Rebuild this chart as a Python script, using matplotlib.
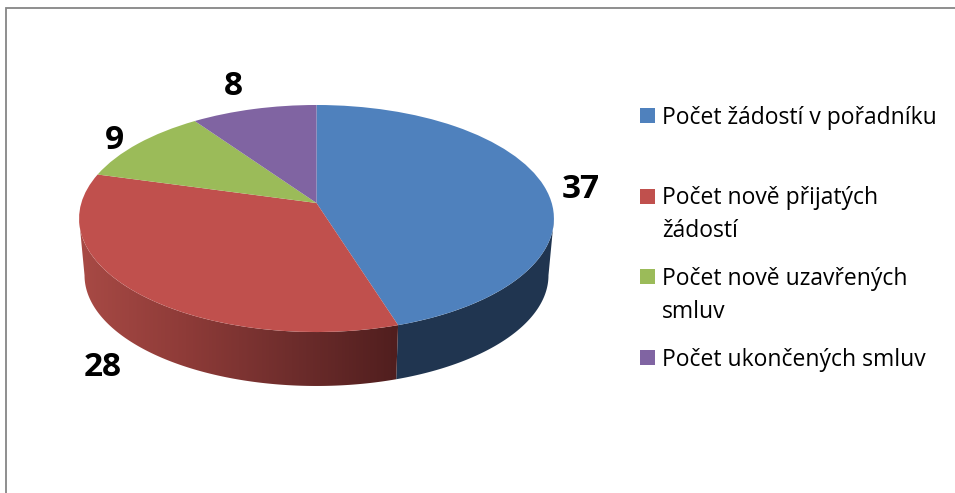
import numpy as np
import matplotlib
matplotlib.use("Agg")
import matplotlib.pyplot as plt
from matplotlib.colors import LinearSegmentedColormap
from matplotlib.patches import Polygon, Rectangle
from matplotlib.transforms import Transform

categories = ["Počet žádostí v pořadníku", "Počet nově přijatých\nžádostí",
              "Počet nově uzavřených\nsmluv", "Počet ukončených smluv"]
values = [37, 28, 9, 8]
colors = ["#4F81BD", "#C0504D", "#9BBB59", "#8064A2"]
W, H = 955, 493
K = 0.1366


def project(u, v, cx, cy, a, b):
    w = 1 - K * v
    return cx + a * u / w, cy + b * v / w


class Persp(Transform):
    input_dims = output_dims = 2
    is_separable = False
    has_inverse = False

    def __init__(self, cx, cy, a, b):
        super().__init__()
        self.p = (cx, cy, a, b)

    def transform_non_affine(self, xy):
        xy = np.asarray(xy, float)
        x, y = project(xy[:, 0], -xy[:, 1], *self.p)
        return np.column_stack([x, y])


TOP = (316.5, 203, 235.2, 111.4)
BOT = (316.5, 260.2, 229.8, 108.6)

plt.rcParams["font.family"] = ["Open Sans", "DejaVu Sans"]
fig = plt.figure(figsize=(W / 100, H / 100), dpi=100, facecolor="white")
ax = fig.add_axes([0, 0, 1, 1])

wedges, _ = ax.pie(values, colors=colors, startangle=90, counterclock=False,
                   wedgeprops=dict(linewidth=0))
for wd in wedges:
    wd.set_transform(Persp(*TOP) + ax.transData)
    wd.set_zorder(5)
ax.set_aspect("auto")
ax.set_xlim(0, W)
ax.set_ylim(H, 0)
ax.set_axis_off()


def side_poly(t0, t1):
    th = np.radians(np.linspace(t0, t1, 200))
    u, v = np.sin(th), -np.cos(th)
    xt, yt = project(u, v, *TOP)
    xb, yb = project(u, v, *BOT)
    return np.column_stack([np.r_[xt, xb[::-1]], np.r_[yt, yb[::-1]]])


cum = np.cumsum(values) / np.sum(values) * 360
sil = np.degrees(np.arccos(-K))
# blue side
ax.add_patch(Polygon(side_poly(sil, cum[0]), closed=True, fc="#203550", ec="none", zorder=2))
# red side with horizontal gradient
poly = Polygon(side_poly(cum[0], 360 - sil), closed=True, fc="none", ec="none", zorder=2)
ax.add_patch(poly)
cmap = LinearSegmentedColormap.from_list("r", ["#A84A45", "#8E3B38", "#6E2D2C", "#501E1E"])
x0, x1 = poly.get_xy()[:, 0].min(), poly.get_xy()[:, 0].max()
y0, y1 = poly.get_xy()[:, 1].min(), poly.get_xy()[:, 1].max()
im = ax.imshow(np.linspace(0, 1, 256)[None, :], cmap=cmap, extent=[x0, x1, y1, y0],
               aspect="auto", zorder=2, interpolation="bilinear")
im.set_clip_path(poly)
ax.set_xlim(0, W)
ax.set_ylim(H, 0)

# frame
ax.plot([6, 6, W], [H, 7.5, 7.5], color="#868686", lw=1.3, zorder=1, solid_joinstyle="miter")

# data labels
label_pos = [(581, 189), (102.5, 367), (114, 140.5), (233, 86.5)]
for val, (x, y) in zip(values, label_pos):
    ax.text(x, y, str(val), ha="center", va="center", fontsize=24, fontweight="bold", color="black", zorder=6)

# legend
for i, (lab, col) in enumerate(zip(categories, colors)):
    yc = 115.5 + 80.7 * i
    ax.add_patch(Rectangle((640, yc - 7.5), 15, 15, fc=col, ec="none", zorder=6))
    ax.text(662, yc - 10, lab, ha="left", va="top", fontsize=16.5, color="black",
            linespacing=1.48, zorder=6)

fig.savefig("out.png", dpi=100, facecolor="white")
